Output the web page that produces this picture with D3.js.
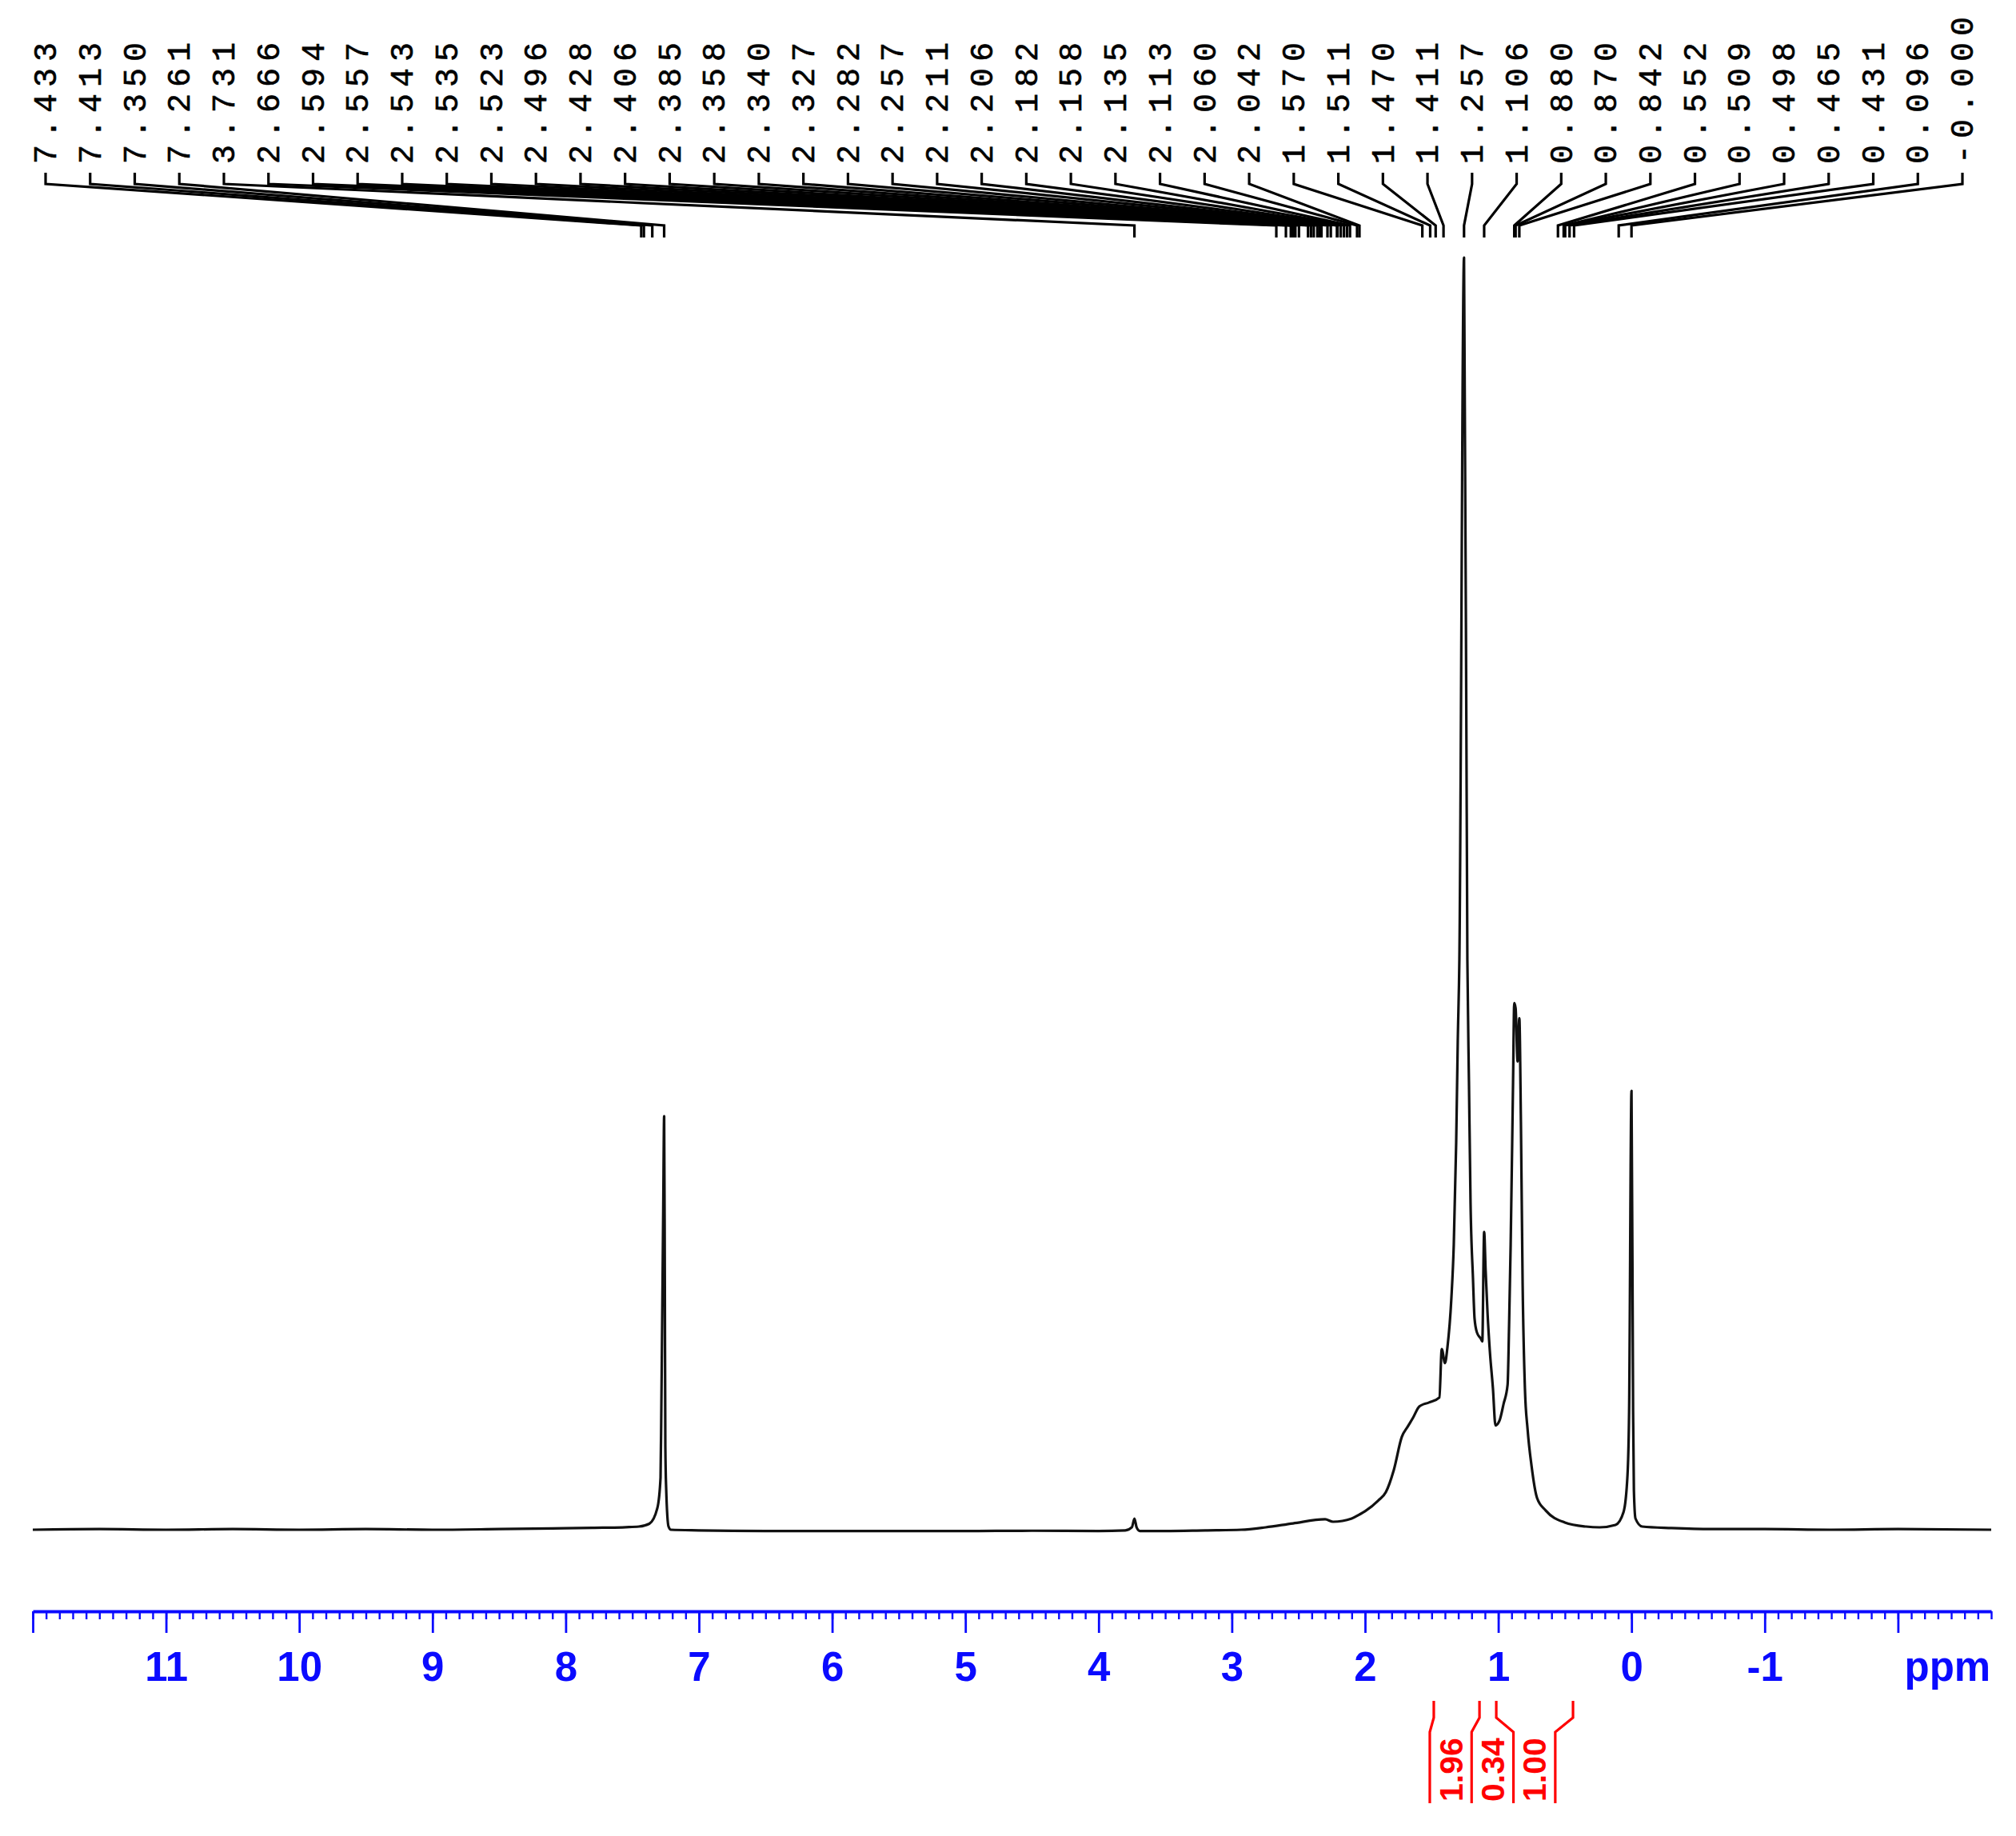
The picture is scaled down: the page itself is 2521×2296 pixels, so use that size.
<!DOCTYPE html>
<html><head><meta charset="utf-8">
<script src="https://cdn.jsdelivr.net/npm/d3@7"></script>
<style>html,body{margin:0;padding:0;background:#fff;} svg{display:block;}</style>
</head><body>
<svg id="c" width="2521" height="2296"></svg>
<script>
// ---- data ----
const specPpm = [12.00,11.50,11.00,10.50,10.00,9.50,9.00,8.50,8.10,7.80,7.55,7.45,7.372,7.312,7.288,7.282,7.268,7.261,7.256,7.252,7.246,7.228,7.21,
  7.00,6.50,6.00,5.50,5.00,4.50,4.00,3.80,3.75,3.731,3.715,3.69,3.50,3.20,2.93,2.746,2.541,2.30,2.24,2.10,2.043,2.00,1.90,1.844,1.784,1.724,
  1.68,1.64,1.592,1.52,1.442,1.424,1.40,1.382,1.352,1.334,1.316,1.304,1.292,1.257,1.232,1.22,1.208,1.19,1.178,1.16,1.13,1.12,1.106,1.095,1.08,
  1.063,1.04,1.021,0.99,0.96,0.93,0.919,0.907,0.889,0.880,0.870,0.855,0.842,0.83,0.817,0.80,0.78,0.75,0.709,0.643,0.50,0.342,0.24,0.12,
  0.06,0.03,0.018,0.0,-0.012,-0.018,-0.03,-0.08,-0.30,-0.60,-1.00,-1.50,-2.00,-2.70];
const specInt = [0,0.05,0,0.05,0,0.05,0,0.05,0.1,0.15,0.2,0.25,0.47,1.7,4.1,9.6,25,32.5,20,6.5,3.3,0.25,0.0,
  -0.05,-0.1,-0.1,-0.1,-0.1,-0.08,-0.1,-0.05,0.2,0.88,0.2,-0.1,-0.1,-0.05,0.0,0.19,0.5,0.82,0.63,0.88,1.19,1.45,2.3,2.95,4.7,7.3,
  8.1,8.8,9.7,10.0,10.4,14.2,13.1,14.3,18.2,22.4,30.4,38.4,44.8,100,44.8,35.2,25.6,19.8,16.6,15.5,15.0,14.8,23.4,20.4,16.9,
  14.0,11.1,8.2,8.6,9.9,11.4,16.0,22.4,35.2,41.4,41.0,36.8,40.2,32.0,19.2,11.1,7.9,5.0,2.5,1.5,0.57,0.25,0.19,0.38,
  1.38,4.3,9.3,34.5,9.3,3.1,0.88,0.25,0.13,0.05,0.05,0.0,0.05,0.0];

const peakLabels = ["7.433","7.413","7.350","7.261","3.731","2.666","2.594","2.557","2.543","2.535","2.523","2.496","2.428",
  "2.406","2.385","2.358","2.340","2.327","2.282","2.257","2.211","2.206","2.182","2.158","2.135","2.113","2.060","2.042",
  "1.570","1.511","1.470","1.411","1.257","1.106","0.880","0.870","0.842","0.552","0.509","0.498","0.465","0.431","0.096","-0.000"];

const majorTicks = [12,11,10,9,8,7,6,5,4,3,2,1,0,-1,-2];
const tickLabelValues = [11,10,9,8,7,6,5,4,3,2,1,0,-1];
const tickLabels = ["11","10","9","8","7","6","5","4","3","2","1","0","-1"];
const axisUnit = "ppm";

const integralBounds = [1.484, 1.141, 1.015, 0.439];
const integralValues = ["1.96","0.34","1.00"];

// ---- drawing ----
const svg = d3.select("#c");
svg.append("rect").attr("width",2521).attr("height",2296).attr("fill","#fff");

const x = d3.scaleLinear().domain([12.0, -2.7]).range([41, 2490]);
const y = d3.scaleLinear().domain([0, 100]).range([1913, 322]);

const BLUE = "#0a0aff";
const RED = "#ff0000";

// spectrum
const pts = specPpm.map((p,i)=>[p, specInt[i]]);
svg.append("path")
  .datum(pts)
  .attr("fill","none")
  .attr("stroke","#111")
  .attr("stroke-width",3.2)
  .attr("stroke-linejoin","round")
  .attr("d", d3.line().curve(d3.curveMonotoneX).x(d=>x(d[0])).y(d=>y(d[1])));

// axis
const axisY = 2015;
const minorTicks = d3.range(120, -28, -1).map(v=>v/10);
const gMinor = svg.append("g").attr("transform",`translate(0,${axisY})`)
  .call(d3.axisBottom(x).tickValues(minorTicks).tickSize(10).tickSizeOuter(0).tickFormat(""));
gMinor.select(".domain").remove();
gMinor.selectAll(".tick line").attr("stroke",BLUE).attr("stroke-width",2.4);

const labelMap = new Map(tickLabelValues.map((v,i)=>[v, tickLabels[i]]));
const gMajor = svg.append("g").attr("transform",`translate(0,${axisY})`)
  .call(d3.axisBottom(x).tickValues(majorTicks).tickSize(27).tickSizeOuter(0)
    .tickFormat(v=>labelMap.has(v)?labelMap.get(v):""));
gMajor.select(".domain").attr("stroke",BLUE).attr("stroke-width",4);
gMajor.selectAll(".tick line").attr("stroke",BLUE).attr("stroke-width",2.8);
gMajor.selectAll(".tick text")
  .attr("y",87).attr("dy",0)
  .attr("fill",BLUE)
  .style("font-family","'Liberation Sans', Arial, sans-serif")
  .style("font-weight","bold")
  .style("font-size","51px");
svg.append("text")
  .attr("x", x(-2) + 62).attr("y", axisY + 87)
  .attr("text-anchor","middle")
  .attr("fill",BLUE)
  .style("font-family","'Liberation Sans', Arial, sans-serif")
  .style("font-weight","bold")
  .style("font-size","51px")
  .text(axisUnit);

// peak labels
const n = peakLabels.length;
const lx0 = 57, lx1 = 2454;
const step = (lx1-lx0)/(n-1);
const gPk = svg.append("g");
peakLabels.forEach((lab,i)=>{
  const lx = lx0 + i*step;
  const px = x(+lab);
  gPk.append("text")
    .attr("transform",`translate(${lx},205) rotate(-90)`)
    .attr("dy","0.33em")
    .attr("fill","#000")
    .style("font-family","'Liberation Mono','Courier New',monospace")
    .style("font-size","40px")
    .style("letter-spacing","8px")
    .style("stroke","#000").style("stroke-width","0.6px")
    .text(lab);
  gPk.append("path")
    .attr("fill","none").attr("stroke","#000").attr("stroke-width",3.2)
    .attr("d",`M${lx},216 L${lx},230 L${px},282 L${px},297`);
});

// integrals
const slotW = 52.3;
const slot0 = x(integralBounds[0]) - 5;
const gInt = svg.append("g");
integralBounds.forEach((b,i)=>{
  const tx = x(b), bx = slot0 + i*slotW;
  gInt.append("path").attr("fill","none").attr("stroke",RED).attr("stroke-width",3.2)
    .attr("d",`M${tx},2127 L${tx},2148 L${bx},2166 L${bx},2255`);
});
integralValues.forEach((v,i)=>{
  const cx = slot0 + (i+0.5)*slotW;
  gInt.append("text")
    .attr("transform",`translate(${cx},2253) rotate(-90)`)
    .attr("dy","0.36em")
    .attr("fill",RED)
    .style("font-family","'Liberation Sans', Arial, sans-serif")
    .style("font-weight","bold")
    .style("font-size","41px")
    .text(v);
});
</script>
</body></html>
